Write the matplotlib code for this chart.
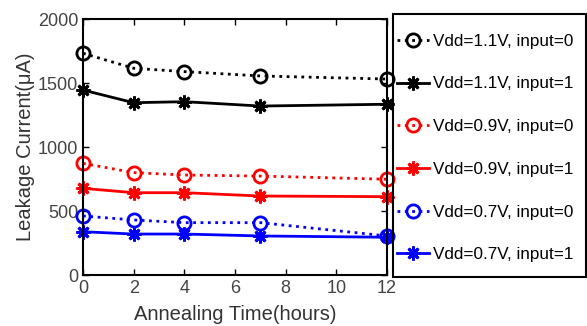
import numpy as np
import matplotlib
matplotlib.use('Agg')
import matplotlib.pyplot as plt
from matplotlib.patches import Rectangle

plt.rcParams['font.family'] = ['Liberation Sans', 'DejaVu Sans']

hours = [0, 2, 4, 7, 12]
v11_in0 = [1732, 1615, 1589, 1555, 1531]
v11_in1 = [1445, 1346, 1354, 1320, 1334]
v09_in0 = [872, 800, 781, 773, 748]
v09_in1 = [677, 643, 643, 617, 612]
v07_in0 = [461, 430, 409, 409, 305]
v07_in1 = [338, 320, 320, 305, 295]
labels = ['Vdd=1.1V, input=0', 'Vdd=1.1V, input=1',
          'Vdd=0.9V, input=0', 'Vdd=0.9V, input=1',
          'Vdd=0.7V, input=0', 'Vdd=0.7V, input=1']

W, H = 587, 326
fig = plt.figure(figsize=(W / 100, H / 100), dpi=100)
ax = fig.add_axes([83/W, 1 - 275/H, 304/W, 256/H])

series = [v11_in0, v11_in1, v09_in0, v09_in1, v07_in0, v07_in1]
colors = ['black', 'black', 'red', 'red', 'blue', 'blue']
asterisk = (8, 2, 0)
for i, (ys, c, lab) in enumerate(zip(series, colors, labels)):
    if i % 2 == 0:
        ax.plot(hours, ys, ls=':', lw=2, color=c, marker='o', ms=9.5,
                mfc='none', mew=2, label=lab, clip_on=False)
    else:
        ax.plot(hours, ys, ls='-', lw=2, color=c, marker=asterisk, ms=10,
                mew=2, label=lab, clip_on=False)

ax.set_xlim(0, 12)
ax.set_ylim(0, 2000)
ax.set_xticks(range(0, 13, 2))
ax.set_yticks(range(0, 2001, 500))
ax.tick_params(direction='in', top=True, right=True, labelsize=13,
               labelcolor='#444444', length=4, width=1)
for s in ax.spines.values():
    s.set_linewidth(1.5)
ax.set_xlabel('Annealing Time(hours)', fontsize=14.5, color='#333333', labelpad=6)
ax.set_ylabel('Leakage Current(\u03bcA)', fontsize=14.5, color='#333333', labelpad=2)

# legend box outside the axes, on the right
fig.patches.append(Rectangle((393/W, 1 - 277/H), 193/W, 263/H, transform=fig.transFigure,
                             fill=False, edgecolor='black', linewidth=1.5))
leg = fig.legend(loc='center left', bbox_to_anchor=(394/W, 1 - 148/H),
                 fontsize=12.3, frameon=False, borderaxespad=0, borderpad=0.2,
                 labelspacing=1.62, handlelength=1.85, handletextpad=0.25)

fig.savefig('out.png', dpi=100)
